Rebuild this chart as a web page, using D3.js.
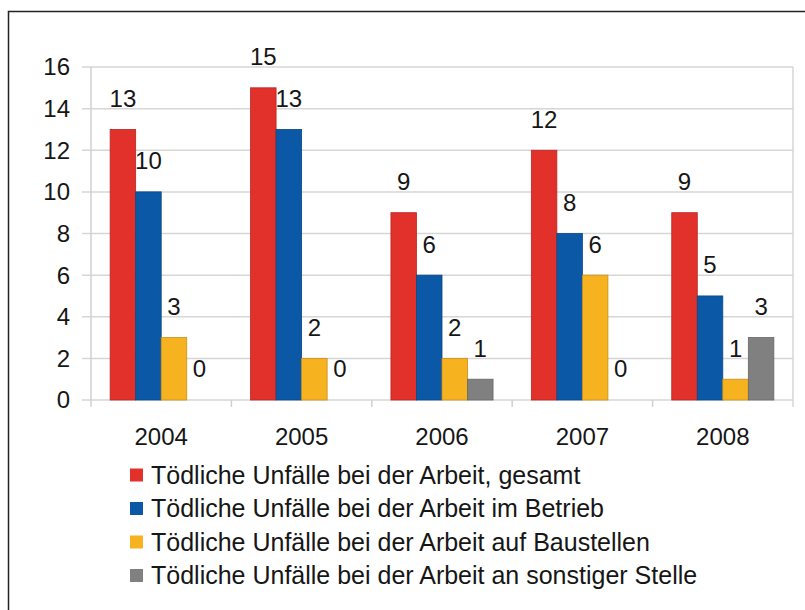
<!DOCTYPE html>
<html>
<head>
<meta charset="utf-8">
<script src="https://cdn.jsdelivr.net/npm/d3@7"></script>
<style>
  body { margin: 0; background: #fff; }
  text { font-family: "Liberation Sans", Arial, sans-serif; fill: #161616; }
</style>
</head>
<body>
<svg id="chart" width="805" height="610"></svg>
<script>
// years on the x axis
const years = ["2004", "2005", "2006", "2007", "2008"];
// one array per series, same order as years
const gesamt      = [13, 15, 9, 12, 9];
const imBetrieb   = [10, 13, 6, 8, 5];
const baustellen  = [3, 2, 2, 6, 1];
const sonstige    = [0, 0, 1, 0, 3];
const seriesNames = [
  "Tödliche Unfälle bei der Arbeit, gesamt",
  "Tödliche Unfälle bei der Arbeit im Betrieb",
  "Tödliche Unfälle bei der Arbeit auf Baustellen",
  "Tödliche Unfälle bei der Arbeit an sonstiger Stelle"
];
const seriesColors = ["#e2302a", "#0b58a6", "#f7b220", "#808080"];
const yTicks = [0, 2, 4, 6, 8, 10, 12, 14, 16];

const allSeries = [gesamt, imBetrieb, baustellen, sonstige];
const fontSize = 24;

const svg = d3.select("#chart");

// outer frame (only top and left edges show in the picture)
svg.append("path")
   .attr("d", "M8.5,610 V11.5 H805")
   .attr("fill", "none")
   .attr("stroke", "#222")
   .attr("stroke-width", 1.5);

const plot = { left: 91, right: 793, top: 67, bottom: 400 };

const x = d3.scaleBand().domain(years).range([plot.left, plot.right]);
const xInner = d3.scaleBand()
                 .domain(d3.range(allSeries.length))
                 .range([0, x.bandwidth()])
                 .paddingOuter(0.75)
                 .paddingInner(0);
const y = d3.scaleLinear().domain([0, 16]).range([plot.bottom, plot.top]);

// gridlines
svg.append("g")
   .selectAll("line")
   .data(yTicks)
   .join("line")
   .attr("x1", plot.left - 9)
   .attr("x2", plot.right)
   .attr("y1", d => y(d))
   .attr("y2", d => y(d))
   .attr("stroke", "#d6d6d6")
   .attr("stroke-width", 1.5);

// left and right frame of plot area
svg.append("line")
   .attr("x1", plot.left).attr("x2", plot.left)
   .attr("y1", plot.top).attr("y2", plot.bottom)
   .attr("stroke", "#d0d0d0").attr("stroke-width", 1.5);
svg.append("line")
   .attr("x1", plot.right).attr("x2", plot.right)
   .attr("y1", plot.top).attr("y2", plot.bottom + 7)
   .attr("stroke", "#d6d6d6").attr("stroke-width", 1.5);

// category tick marks below the axis
svg.append("g")
   .selectAll("line")
   .data(years)
   .join("line")
   .attr("x1", d => x(d))
   .attr("x2", d => x(d))
   .attr("y1", plot.bottom)
   .attr("y2", plot.bottom + 7)
   .attr("stroke", "#d0d0d0")
   .attr("stroke-width", 1.5);

// y tick labels
svg.append("g")
   .selectAll("text")
   .data(yTicks)
   .join("text")
   .attr("x", 70)
   .attr("y", d => y(d))
   .attr("dy", "0.35em")
   .attr("text-anchor", "end")
   .attr("font-size", fontSize)
   .text(d => d);

// x labels
svg.append("g")
   .selectAll("text")
   .data(years)
   .join("text")
   .attr("x", d => x(d) + x.bandwidth() / 2)
   .attr("y", 437)
   .attr("dy", "0.35em")
   .attr("text-anchor", "middle")
   .attr("font-size", fontSize)
   .text(d => d);

// bars and value labels
allSeries.forEach((values, s) => {
  const g = svg.append("g");
  g.selectAll("rect")
   .data(values)
   .join("rect")
   .attr("x", (d, i) => x(years[i]) + xInner(s))
   .attr("y", d => y(d))
   .attr("width", xInner.bandwidth())
   .attr("height", d => plot.bottom - y(d))
   .attr("fill", seriesColors[s])
   .attr("stroke", d3.color(seriesColors[s]).darker(0.6))
   .attr("stroke-width", 0.8);

  g.selectAll("text")
   .data(values)
   .join("text")
   .attr("x", (d, i) => x(years[i]) + xInner(s) + xInner.bandwidth() / 2)
   .attr("y", d => y(d) - 31)
   .attr("dy", "0.35em")
   .attr("text-anchor", "middle")
   .attr("font-size", fontSize)
   .text(d => d);
});

// legend
const legend = svg.append("g").attr("transform", "translate(130,475)");
const rows = legend.selectAll("g")
   .data(seriesNames)
   .join("g")
   .attr("transform", (d, i) => `translate(0,${i * 33.5})`);
rows.append("rect")
    .attr("x", 0).attr("y", -6.5)
    .attr("width", 13).attr("height", 13)
    .attr("fill", (d, i) => seriesColors[i]);
rows.append("text")
    .attr("x", 21)
    .attr("y", 0)
    .attr("dy", "0.35em")
    .attr("font-size", 25)
    .text(d => d);
</script>
</body>
</html>
